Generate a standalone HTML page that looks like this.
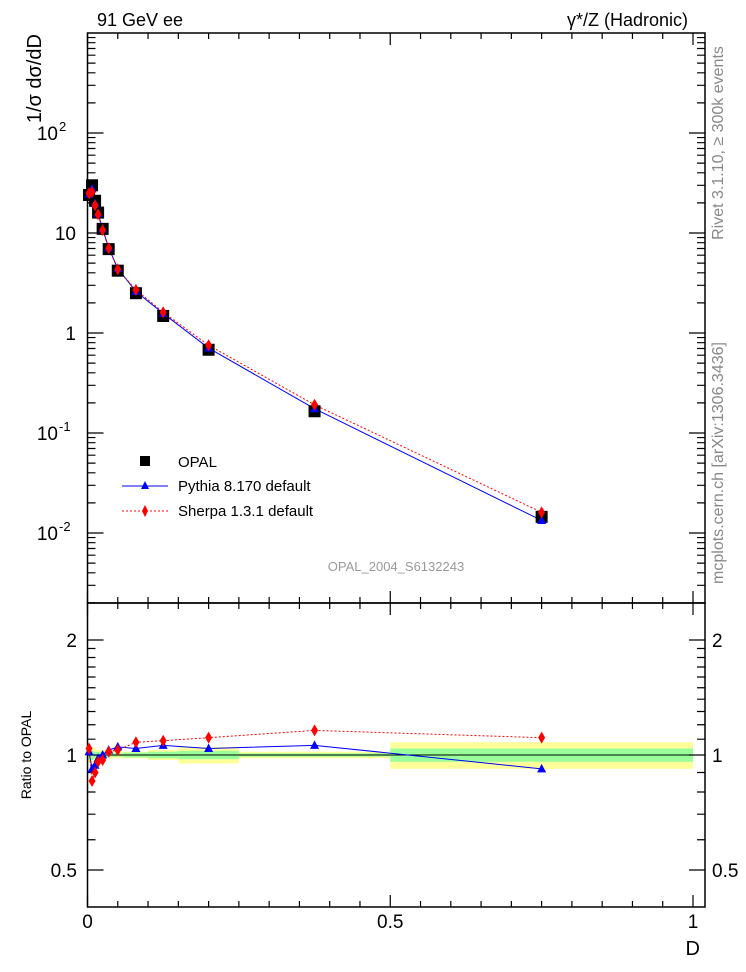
<!DOCTYPE html>
<html><head><meta charset="utf-8"><style>
html,body{margin:0;padding:0;background:#fff}
svg{display:block;font-family:"Liberation Sans",sans-serif}
</style></head><body>
<svg id="chart" width="746" height="972" viewBox="0 0 746 972" xmlns="http://www.w3.org/2000/svg">
<text x="97" y="26" font-size="18">91 GeV ee</text>
<text x="688" y="26" font-size="18" text-anchor="end">γ*/Z (Hadronic)</text>
<text transform="translate(41,34) rotate(-90)" font-size="20" text-anchor="end">1/σ dσ/dD</text>
<text transform="translate(31,755) rotate(-90)" font-size="14" text-anchor="middle">Ratio to OPAL</text>
<text x="700" y="955" font-size="20" text-anchor="end">D</text>
<text transform="translate(723,143) rotate(-90)" font-size="16" fill="#888" text-anchor="middle">Rivet 3.1.10, ≥ 300k events</text>
<text transform="translate(723,463) rotate(-90)" font-size="16" fill="#888" text-anchor="middle">mcplots.cern.ch [arXiv:1306.3436]</text>
<text x="396" y="571" font-size="13" fill="#999" text-anchor="middle">OPAL_2004_S6132243</text>
<g id="bands"></g>
<g id="axes"></g>
<g id="series"></g>
<g>
<rect x="140" y="456" width="10" height="10" fill="#000"/>
<text x="178" y="467" font-size="15">OPAL</text>
<line x1="122" y1="486" x2="168" y2="486" stroke="#00f"/>
<path d="M145,481 L149,489 L141,489 Z" fill="#00f"/>
<text x="178" y="491" font-size="15">Pythia 8.170 default</text>
<line x1="122" y1="511" x2="168" y2="511" stroke="#f00" stroke-dasharray="2,2"/>
<path d="M145,505 L148,511 L145,517 L142,511 Z" fill="#f00"/>
<text x="178" y="516" font-size="15">Sherpa 1.3.1 default</text>
</g>
</svg>
<script>
const binLo = [0,0.005,0.01,0.015,0.02,0.03,0.04,0.06,0.1,0.15,0.25,0.5];
const binHi = [0.005,0.01,0.015,0.02,0.03,0.04,0.06,0.1,0.15,0.25,0.5,1.0];
const binCenter = [0.0025,0.0075,0.0125,0.0175,0.025,0.035,0.05,0.08,0.125,0.2,0.375,0.75];
const opalValues = [24,30,21,16,11,6.9,4.2,2.5,1.48,0.68,0.165,0.0145];
const pythiaRatio = [1.02,0.92,0.94,0.98,1.0,1.03,1.05,1.04,1.06,1.04,1.06,0.92];
const sherpaRatio = [1.04,0.855,0.9,0.96,0.97,1.02,1.03,1.08,1.09,1.11,1.16,1.11];
const statErr = [0.03,0.03,0.02,0.02,0.02,0.015,0.01,0.015,0.02,0.025,0.01,0.04];
const totErr = [0.05,0.05,0.04,0.03,0.03,0.02,0.02,0.02,0.03,0.05,0.02,0.08];
const xTickLabels = ["0","0.5","1"];
const mainTickLabels = ["10","1"];
const ratioTickLabels = ["0.5","1","2"];

const NS="http://www.w3.org/2000/svg";
const L=87.5,R=705,T=33,MB=603,B=907;
const X=d=>87.5+d*605.5;
const Y=v=>333-100*Math.log10(v);
const RY=r=>755-382*Math.log10(r);
function mk(tag,attrs,parent){const e=document.createElementNS(NS,tag);for(const k in attrs)e.setAttribute(k,attrs[k]);parent.appendChild(e);return e;}
const bands=document.getElementById('bands'),axes=document.getElementById('axes'),ser=document.getElementById('series');

for(let i=0;i<binLo.length;i++){
  const y=mk('rect',{x:X(binLo[i]),y:RY(1+totErr[i]),width:X(binHi[i])-X(binLo[i]),height:RY(1-totErr[i])-RY(1+totErr[i]),fill:'#ffff99'},bands);
  
  
  const g=mk('rect',{x:X(binLo[i]),y:RY(1+statErr[i]),width:X(binHi[i])-X(binLo[i]),height:RY(1-statErr[i])-RY(1+statErr[i]),fill:'#99ff99'},bands);
  
  
}
const one=mk('line',{x1:L,x2:X(1),y1:RY(1),y2:RY(1),stroke:'#000'},bands);



const f1=mk('rect',{x:L,y:T,width:R-L,height:MB-T,fill:'none',stroke:'#000','stroke-width':1.5},axes);


const f2=mk('rect',{x:L,y:MB,width:R-L,height:B-MB,fill:'none',stroke:'#000','stroke-width':1.5},axes);


let tp='';
for(let k=0;k<=20;k++){const x=X(k*0.05);const len=k%10==0?12:6;
  for(const yb of [T,MB]){tp+=`M${x},${yb}v${len}`;}
  for(const yb of [MB,B]){tp+=`M${x},${yb}v${-len}`;}}
for(let e=-3;e<=2;e++){for(let m=1;m<10;m++){const v=m*Math.pow(10,e);const y=Y(v);if(y<T||y>MB)continue;const len=m==1?16:8;tp+=`M${L},${y}h${len}M${R},${y}h${-len}`;}}
for(const r of [0.5,0.6,0.7,0.8,0.9,1,1.1,1.2,1.3,1.4,1.5,1.6,1.7,1.8,1.9,2]){const y=RY(r);const len=(r==0.5||r==1||r==2)?16:8;tp+=`M${L},${y}h${len}M${R},${y}h${-len}`;}
const tk=mk('path',{d:tp,stroke:'#000','stroke-width':1.2,fill:'none'},axes);


xTickLabels.forEach(s=>{const t=mk('text',{x:X(parseFloat(s)),y:928,'font-size':19,'text-anchor':'middle'},axes);t.textContent=s;

});
mainTickLabels.forEach(s=>{const t=mk('text',{x:76,y:Y(parseFloat(s))+7,'font-size':19,'text-anchor':'end'},axes);t.textContent=s;

});
[[2,'10'],[-1,'10'],[-2,'10']].forEach(([e,b])=>{const t=mk('text',{x:58,y:Y(Math.pow(10,e))+7,'font-size':19,'text-anchor':'end'},axes);t.textContent=b;


const s=mk('text',{x:59,y:Y(Math.pow(10,e))-2,'font-size':13},axes);s.textContent=String(e);

});
ratioTickLabels.forEach(s=>{for(const [x,a] of [[77,'end'],[712,'start']]){const t=mk('text',{x:x,y:RY(parseFloat(s))+7,'font-size':19,'text-anchor':a},axes);t.textContent=s;

}});

function line(pts,color,dash,name){const a={points:pts.map(p=>p.join(',')).join(' '),fill:'none',stroke:color,'stroke-width':1};if(dash)a['stroke-dasharray']=dash;const e=mk('polyline',a,ser);

}
function tri(x,y,c,name){const e=mk('path',{d:`M${x},${y-5}L${x+4.5},${y+3.5}L${x-4.5},${y+3.5}Z`,fill:c},ser);

}
function dia(x,y,c,name){const e=mk('path',{d:`M${x},${y-6}L${x+3.5},${y}L${x},${y+6}L${x-3.5},${y}Z`,fill:c},ser);

}
const pyMain=binCenter.map((d,i)=>[X(d),Y(opalValues[i]*pythiaRatio[i])]);
const shMain=binCenter.map((d,i)=>[X(d),Y(opalValues[i]*sherpaRatio[i])]);
line(pyMain,'#00f',null,'pythia-line');
line(shMain,'#f00','2,2','sherpa-line');
binCenter.forEach((d,i)=>{const r=mk('rect',{x:X(d)-6,y:Y(opalValues[i])-6,width:12,height:12,fill:'#000'},ser);

});
pyMain.forEach(p=>tri(p[0],p[1],'#00f','pythia-point'));
shMain.forEach(p=>dia(p[0],p[1],'#f00','sherpa-point'));
const pyR=binCenter.map((d,i)=>[X(d),RY(pythiaRatio[i])]);
const shR=binCenter.map((d,i)=>[X(d),RY(sherpaRatio[i])]);
line(pyR,'#00f',null,'pythia-ratio-line');
line(shR,'#f00','2,2','sherpa-ratio-line');
pyR.forEach(p=>tri(p[0],p[1],'#00f','pythia-ratio-point'));
shR.forEach(p=>dia(p[0],p[1],'#f00','sherpa-ratio-point'));
</script>
</body></html>
